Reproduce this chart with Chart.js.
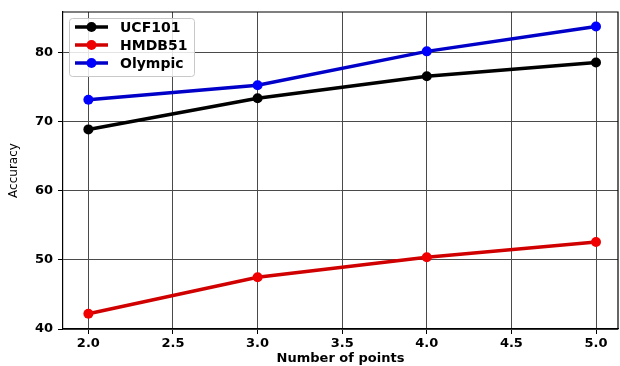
<!DOCTYPE html>
<html>
<head>
<meta charset="utf-8">
<script src="https://cdn.jsdelivr.net/npm/chart.js@4.4.0/dist/chart.umd.min.js"></script>
<style>
    html, body { margin: 0; padding: 0; background: #fff; }
    #wrap { width: 620px; height: 366px; }
</style>
</head>
<body>
<div id="wrap"><canvas id="myChart" width="620" height="366"></canvas></div>
<script>
// values
const points = [2.0, 3.0, 4.0, 5.0];
const ucf101 = [68.9, 73.4, 76.6, 78.6];
const hmdb51 = [42.2, 47.5, 50.4, 52.6];
const olympic = [73.2, 75.3, 80.2, 83.8];
const xTicks = [2.0, 2.5, 3.0, 3.5, 4.0, 4.5, 5.0];
const yTicks = [40, 50, 60, 70, 80];

const tickFont = { family: 'DejaVu Sans', size: 13, weight: 'bold' };

function toXY(ys) {
    return points.map((x, i) => ({ x: x, y: ys[i] }));
}

// matplotlib style legend (line + marker) in a framed box
const boxLegend = {
    id: 'boxLegend',
    afterDraw(chart) {
        const ctx = chart.ctx;
        ctx.save();
        ctx.fillStyle = 'rgba(255,255,255,0.85)';
        ctx.strokeStyle = '#c8c8c8';
        ctx.lineWidth = 1;
        ctx.beginPath();
        ctx.roundRect(69.5, 18.5, 125, 58, 3);
        ctx.fill();
        ctx.stroke();
        const rows = [27, 45, 63];
        chart.data.datasets.forEach((ds, i) => {
            const y = rows[i];
            ctx.strokeStyle = ds.borderColor;
            ctx.lineWidth = 3.5;
            ctx.beginPath();
            ctx.moveTo(75, y);
            ctx.lineTo(108, y);
            ctx.stroke();
            ctx.fillStyle = ds.pointBackgroundColor;
            ctx.beginPath();
            ctx.arc(91.5, y, 5, 0, Math.PI * 2);
            ctx.fill();
            ctx.fillStyle = '#000';
            ctx.font = 'bold 14px "DejaVu Sans"';
            ctx.textBaseline = 'middle';
            ctx.textAlign = 'left';
            ctx.fillText(ds.label, 120, y + 1);
        });
        ctx.restore();
    }
};

// top and right spines
const frame = {
    id: 'frame',
    afterDatasetsDraw(chart) {
        const a = chart.chartArea;
        const ctx = chart.ctx;
        ctx.save();
        ctx.strokeStyle = '#000';
        ctx.lineWidth = 1.2;
        ctx.beginPath();
        ctx.moveTo(a.left, a.top);
        ctx.lineTo(a.right, a.top);
        ctx.lineTo(a.right, a.bottom);
        ctx.stroke();
        ctx.restore();
    }
};

const ctx = document.getElementById('myChart').getContext('2d');
const myChart = new Chart(ctx, {
    type: 'line',
    data: {
        datasets: [
            {
                label: 'UCF101',
                data: toXY(ucf101),
                borderColor: '#000000',
                pointBackgroundColor: '#000000',
                pointBorderColor: '#000000',
                borderWidth: 3.5,
                pointRadius: 5,
                pointBorderWidth: 0,
            },
            {
                label: 'HMDB51',
                data: toXY(hmdb51),
                borderColor: '#d00000',
                pointBackgroundColor: '#f00000',
                pointBorderColor: '#f00000',
                borderWidth: 3.5,
                pointRadius: 5,
                pointBorderWidth: 0,
            },
            {
                label: 'Olympic',
                data: toXY(olympic),
                borderColor: '#0000c8',
                pointBackgroundColor: '#0000ff',
                pointBorderColor: '#0000ff',
                borderWidth: 3.5,
                pointRadius: 5,
                pointBorderWidth: 0,
            },
        ]
    },
    options: {
        responsive: false,
        animation: false,
        layout: {
            autoPadding: false,
            padding: { top: 12, right: 2, left: 0, bottom: 0 }
        },
        plugins: {
            legend: { display: false },
            tooltip: { enabled: false },
        },
        scales: {
            x: {
                type: 'linear',
                min: 1.85,
                max: 5.13,
                afterBuildTicks: scale => { scale.ticks = xTicks.map(v => ({ value: v })); },
                afterFit: scale => {
                    scale.height = 37;
                    scale.paddingLeft = 0;
                    scale.paddingRight = 0;
                },
                ticks: {
                    color: '#000',
                    font: tickFont,
                    padding: 2,
                    maxRotation: 0,
                    callback: v => v.toFixed(1),
                },
                grid: {
                    color: '#4a4a4a',
                    lineWidth: 1,
                    tickLength: 5,
                    tickColor: '#000',
                },
                border: { color: '#000', width: 1.2 },
                title: {
                    display: true,
                    text: 'Number of points',
                    color: '#000',
                    font: tickFont,
                    padding: { top: 0, bottom: 0 },
                },
            },
            y: {
                min: 40,
                max: 85.9,
                afterBuildTicks: scale => { scale.ticks = yTicks.map(v => ({ value: v })); },
                afterFit: scale => {
                    scale.width = 63;
                    scale.paddingTop = 0;
                    scale.paddingBottom = 0;
                },
                ticks: {
                    color: '#000',
                    font: tickFont,
                    padding: 5,
                },
                grid: {
                    color: '#4a4a4a',
                    lineWidth: 1,
                    tickLength: 5,
                    tickColor: '#000',
                },
                border: { color: '#000', width: 1.2 },
                title: {
                    display: true,
                    text: 'Accuracy',
                    color: '#000',
                    font: { family: 'DejaVu Sans', size: 12 },
                    padding: { top: 7, bottom: 0 },
                },
            },
        }
    },
    plugins: [frame, boxLegend]
});
</script>
</body>
</html>
